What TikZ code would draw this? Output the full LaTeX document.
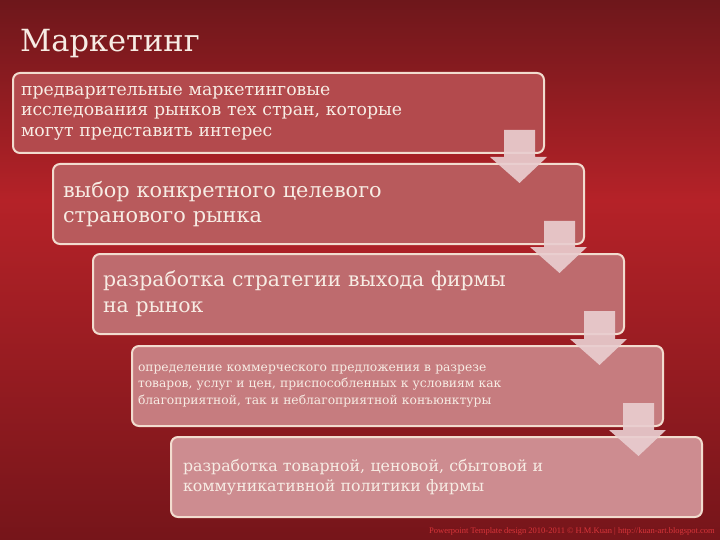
\documentclass[tikz,border=0pt]{standalone}
\usepackage{fontspec}
\setmainfont{DejaVu Serif}
\newfontfamily\footfont{Liberation Serif}
\usetikzlibrary{calc}
\definecolor{bgtop}{HTML}{6E171B}
\definecolor{bgmid}{HTML}{B52228}
\definecolor{bgbot}{HTML}{76151A}
\definecolor{boxA}{HTML}{B34A4D}
\definecolor{boxB}{HTML}{B85A5C}
\definecolor{boxC}{HTML}{BE6B6E}
\definecolor{boxD}{HTML}{C67C7F}
\definecolor{boxE}{HTML}{CD8C90}
\definecolor{edge}{HTML}{F2DCCF}
\definecolor{txt}{HTML}{F7ECE4}
\definecolor{arrowc}{HTML}{E9CDCF}
\definecolor{footc}{HTML}{D8353A}
\begin{document}
\begin{tikzpicture}[x=1pt,y=-1pt,
  stepbox/.style={draw=edge, line width=2pt, rounded corners=7pt, anchor=north west,
    minimum width=531pt, minimum height=80pt, text width=511pt, inner xsep=10pt,
    align=left, text=txt},
  blockarrow/.style={fill=arrowc, fill opacity=0.92, draw=none}]
\useasboundingbox (0,0) rectangle (720,540);
\shade[top color=bgtop, bottom color=bgmid] (0,0) rectangle (720,200);
\shade[top color=bgmid, bottom color=bgbot] (0,200) rectangle (720,540);
\node[anchor=base west, inner sep=0, text=txt, font=\fontsize{30.5}{36}\selectfont] (title) at (20,52) {Маркетинг};
\node[stepbox, fill=boxA, inner xsep=8pt, text width=515pt, font=\fontsize{17.3}{20.5}\selectfont] (b1) at (12,72)
  {предварительные маркетинговые\\исследования рынков тех стран, которые\\могут представить интерес};
\node[stepbox, fill=boxB, font=\fontsize{20.8}{25.5}\selectfont] (b2) at (52,163)
  {выбор конкретного целевого\\странового рынка};
\node[stepbox, fill=boxC, font=\fontsize{20.4}{26}\selectfont] (b3) at (92,253)
  {разработка стратегии выхода фирмы\\на рынок};
\node[stepbox, fill=boxD, inner xsep=6pt, text width=519pt, font=\fontsize{12.3}{16.5}\selectfont] (b4) at (131,345)
  {определение коммерческого предложения в разрезе\\товаров, услуг и цен, приспособленных к условиям как\\благоприятной, так и неблагоприятной конъюнктуры};
\node[stepbox, fill=boxE, inner xsep=12pt, text width=507pt, font=\fontsize{15.8}{20.5}\selectfont] (b5) at (170,436)
  {разработка товарной, ценовой, сбытовой и\\коммуникативной политики фирмы};
\foreach \a/\b in {b1/b2,b2/b3,b3/b4,b4/b5}{
  \fill[blockarrow]
    ($(\a.south east)+(-41,-24)$) -- ($(\a.south east)+(-10,-24)$)
    -- ($(\a.south east |- \b.north)+(-10,-6)$) -- ($(\a.south east |- \b.north)+(2,-6)$)
    -- ($(\a.south east |- \b.north)+(-25.5,20)$)
    -- ($(\a.south east |- \b.north)+(-55,-6)$) -- ($(\a.south east |- \b.north)+(-41,-6)$) -- cycle;
}
\node[anchor=base east, inner sep=0, text=footc, font=\footfont\fontsize{8.5}{10}\selectfont] (foot) at (715,533)
  {Powerpoint Template design 2010-2011 © H.M.Kuan | http://kuan-art.blogspot.com};
\end{tikzpicture}
\end{document}
